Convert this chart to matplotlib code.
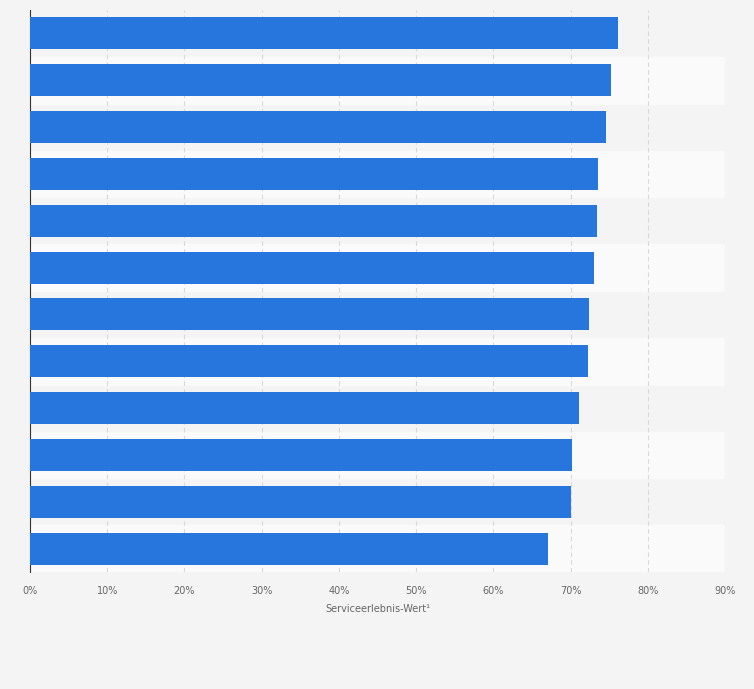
import matplotlib.pyplot as plt
import numpy as np

values = [76.2, 75.3, 74.6, 73.6, 73.4, 73.1, 72.4, 72.2, 71.1, 70.2, 70.1, 67.1]
ticks = [0, 10, 20, 30, 40, 50, 60, 70, 80, 90]
tick_labels = [f"{t}%" for t in ticks]

fig = plt.figure(figsize=(7.54, 6.89), dpi=100)
fig.patch.set_facecolor('#f4f4f4')
ax = fig.add_axes([30 / 754, 1 - 572 / 689, 695 / 754, 562 / 689])
ax.set_facecolor('#f4f4f4')

n = len(values)
y = np.arange(n)
for i in range(n):
    if i % 2 == 1:
        ax.axhspan(i - 0.5, i + 0.5, color='#fafafa', zorder=0)

ax.barh(y, values, height=0.68, color='#2776dd', zorder=3)
ax.set_ylim(n - 0.5, -0.5)
ax.set_xlim(0, 90)
ax.set_xticks(ticks)
ax.set_xticklabels(tick_labels, fontsize=7, color='#666666')
ax.set_yticks([])
ax.grid(axis='x', color='#d8d8d8', linestyle=(0, (4, 3)), linewidth=0.8, zorder=1)
for s in ['top', 'right', 'bottom']:
    ax.spines[s].set_visible(False)
ax.spines['left'].set_color('#333333')
ax.tick_params(axis='x', length=0, pad=10)
ax.set_xlabel('Serviceerlebnis-Wert¹', fontsize=7, color='#666666', labelpad=6)

fig.savefig('out.png', dpi=100, facecolor=fig.get_facecolor())
